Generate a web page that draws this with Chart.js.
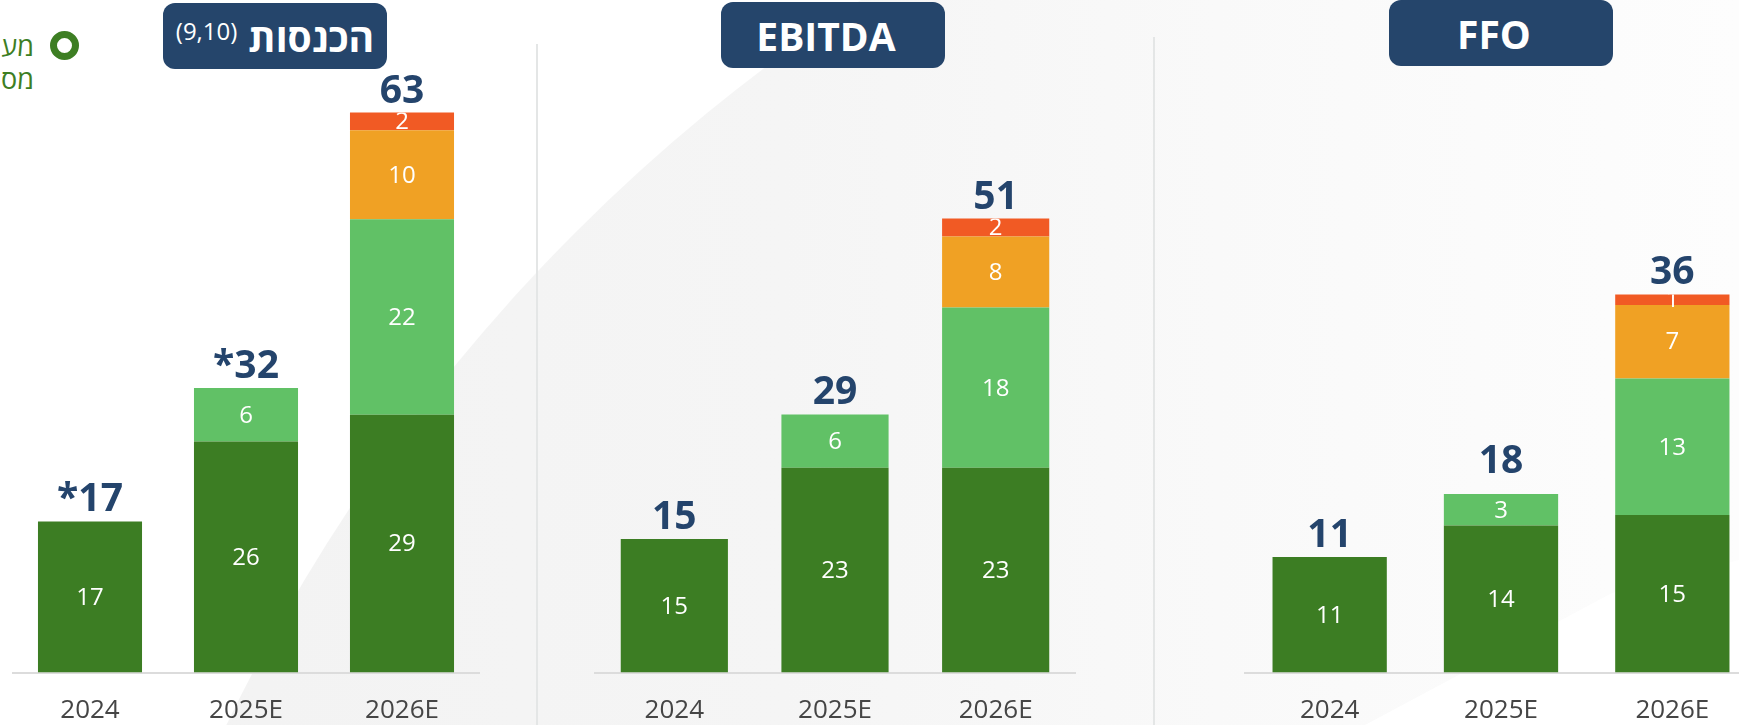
<!DOCTYPE html>
<html><head><meta charset="utf-8">
<script src="https://cdn.jsdelivr.net/npm/chart.js@4.4.1/dist/chart.umd.min.js"></script>
<style>
html,body{margin:0;padding:0;width:1739px;height:725px;overflow:hidden;background:#fff;font-family:"Open Sans","DejaVu Sans",sans-serif;}
#bg{position:absolute;left:0;top:0;}
canvas{position:absolute;top:0;}
.sep{position:absolute;width:2px;background:#e4e6e6;bottom:0;}
.tbox{position:absolute;width:224px;height:66px;border-radius:12px;background:#25456b;color:#fff;font-weight:700;font-size:39px;display:flex;align-items:center;justify-content:center;box-sizing:border-box;direction:ltr;}
.tbox sup{font-weight:400;font-size:24px;position:relative;top:-6px;margin-right:11px;vertical-align:baseline;}
.ring{position:absolute;left:50px;top:31px;width:29px;height:29px;border-radius:50%;border:7.5px solid #3d7e23;box-sizing:border-box;}
.leg{position:absolute;right:1705px;font-size:27px;color:#3d7e23;direction:rtl;white-space:nowrap;line-height:32px;}
</style></head>
<body>
<svg id="bg" width="1739" height="725">
  <defs>
    <linearGradient id="g" x1="0" y1="0" x2="1739" y2="0" gradientUnits="userSpaceOnUse">
      <stop offset="0" stop-color="#f2f2f2"/>
      <stop offset="0.45" stop-color="#f5f5f5"/>
      <stop offset="0.7" stop-color="#f9f9f9"/>
      <stop offset="1" stop-color="#fdfdfd"/>
    </linearGradient>
  </defs>
  <circle cx="1848" cy="1504" r="1799" fill="url(#g)"/>
  <polygon points="1365,725 1612,593 1739,560 1739,725" fill="#ffffff"/>
</svg>
<div class="sep" style="left:536px;top:44px;"></div>
<div class="sep" style="left:1153px;top:37px;"></div>

<div class="ring"></div>
<div class="leg" style="top:30px;">מע</div>
<div class="leg" style="top:63px;">מס</div>

<div class="tbox" style="left:163px;top:3px;"><sup>(9,10)</sup><span>הכנסות</span></div>
<div class="tbox" style="left:721px;top:2px;padding-right:14px;">EBITDA</div>
<div class="tbox" style="left:1389px;top:0px;padding-right:14px;">FFO</div>

<canvas id="c1" width="468" height="725" style="left:12px;"></canvas>
<canvas id="c2" width="482" height="725" style="left:594px;"></canvas>
<canvas id="c3" width="514" height="725" style="left:1244px;"></canvas>

<script>
// ---- data ----
const years = ['2024', '2025E', '2026E'];

const revDark   = [17, 26, 29];
const revLight  = [null, 6, 22];
const revOrange = [null, null, 10];
const revRed    = [null, null, 2];
const revTotals = [17, 32, 63];
const revTotalLabels = ['*17', '*32', '63'];

const ebDark   = [15, 23, 23];
const ebLight  = [null, 6, 18];
const ebOrange = [null, null, 8];
const ebRed    = [null, null, 2];
const ebTotals = [15, 29, 51];
const ebTotalLabels = ['15', '29', '51'];

const ffoDark   = [11, 14, 15];
const ffoLight  = [null, 3, 13];
const ffoOrange = [null, null, 7];
const ffoRed    = [null, null, 1];
const ffoTotals = [11, 18, 36];
const ffoTotalLabels = ['11', '18', '36'];

// ---- styles ----
const COLORS = ['#3c7d23', '#61c166', '#f0a124', '#f15a24'];
const FONT = '"Open Sans","DejaVu Sans",sans-serif';

function makeLabelPlugin(totals, totalLabels) {
  return {
    id: 'valueLabels',
    afterDatasetsDraw(chart) {
      const ctx = chart.ctx;
      const ds = chart.data.datasets;
      const metas = ds.map((d, i) => chart.getDatasetMeta(i));
      const bottom = chart.chartArea.bottom;
      for (let j = 0; j < chart.data.labels.length; j++) {
        let topY = Infinity;
        ds.forEach((d, i) => { if (d.data[j] != null) topY = Math.min(topY, metas[i].data[j].y); });
        ds.forEach((d, i) => {
          const v = d.data[j];
          if (v == null) return;
          const el = metas[i].data[j];
          const cy = (el.y + el.base) / 2;
          ctx.save();
          ctx.beginPath();
          ctx.rect(el.x - el.width / 2, topY, el.width, bottom - topY);
          ctx.clip();
          ctx.fillStyle = '#ffffff';
          ctx.font = '24px ' + FONT;
          ctx.textAlign = 'center';
          ctx.textBaseline = 'middle';
          ctx.fillText(String(v), el.x, cy + 1);
          ctx.restore();
        });
        const y = chart.scales.y.getPixelForValue(totals[j]);
        ctx.save();
        ctx.fillStyle = '#24446c';
        ctx.font = 'bold 39px ' + FONT;
        ctx.textAlign = 'center';
        ctx.textBaseline = 'alphabetic';
        ctx.fillText(totalLabels[j], metas[0].data[j].x, y - 10);
        ctx.restore();
      }
    }
  };
}

function makeChart(id, series, totals, totalLabels, yMax, padTop) {
  const datasets = series.map((data, i) => ({
    data: data,
    backgroundColor: COLORS[i],
    borderWidth: 0,
    categoryPercentage: 0.667,
    barPercentage: 1.0
  }));
  return new Chart(document.getElementById(id), {
    type: 'bar',
    data: { labels: years, datasets: datasets },
    options: {
      responsive: false,
      animation: false,
      layout: { padding: { top: padTop, left: 0, right: 0, bottom: 0 } },
      plugins: { legend: { display: false }, tooltip: { enabled: false } },
      scales: {
        x: {
          stacked: true,
          grid: { display: false, drawTicks: false },
          border: { display: true, color: '#dcdcdc', width: 2 },
          ticks: { color: '#454545', font: { size: 26, family: FONT }, padding: 22 },
          afterFit(s) { s.height = 52.5; }
        },
        y: { stacked: true, display: false, min: 0, max: yMax }
      }
    },
    plugins: [makeLabelPlugin(totals, totalLabels)]
  });
}

makeChart('c1', [revDark, revLight, revOrange, revRed], revTotals, revTotalLabels, 70, 50.3);
makeChart('c2', [ebDark, ebLight, ebOrange, ebRed], ebTotals, ebTotalLabels, 70, 49.5);
makeChart('c3', [ffoDark, ffoLight, ffoOrange, ffoRed], ffoTotals, ffoTotalLabels, 60, 42.3);
</script>
</body></html>
